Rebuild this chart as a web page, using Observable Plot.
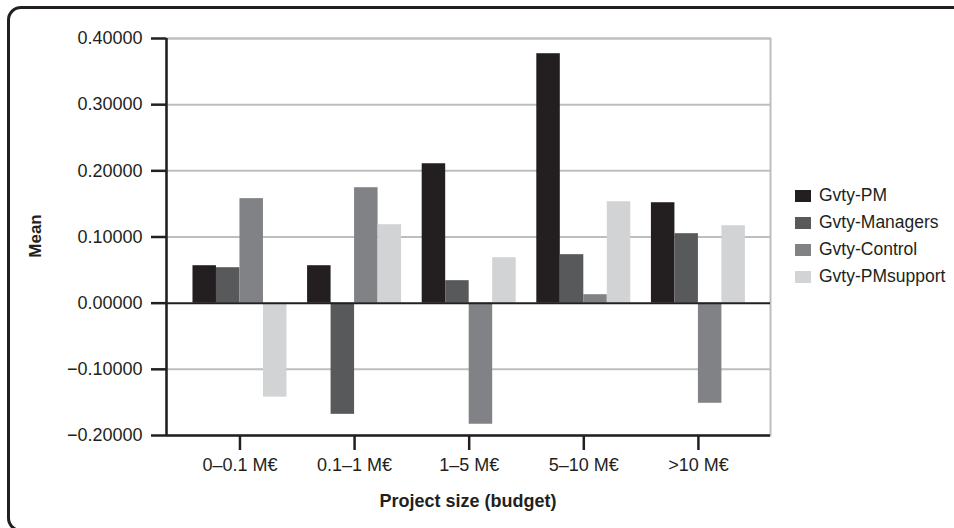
<!DOCTYPE html>
<html>
<head>
<meta charset="utf-8">
<script src="https://cdn.jsdelivr.net/npm/d3@7"></script>
<script src="https://cdn.jsdelivr.net/npm/@observablehq/plot@0.6"></script>
<style>
  body { margin: 0; background: #fff; }
  #chart {
    position: relative; width: 954px; height: 528px; overflow: hidden;
    font-family: "Liberation Sans", Arial, sans-serif; color: #231f20; background: #fff;
  }
  #chart svg { position: absolute; left: 0; top: 0; }
  .panel {
    position: absolute; left: 7px; top: 6px; right: -20px; bottom: -4px;
    border: 3px solid #231f20; border-radius: 14px;
  }
  .ylabel {
    position: absolute; left: 36px; top: 236px; font-weight: bold; font-size: 17px;
    transform: translate(-50%, -50%) rotate(-90deg); white-space: nowrap;
  }
  .xlabel {
    position: absolute; left: 468px; top: 501px; font-weight: bold; font-size: 18px;
    transform: translate(-50%, -50%); white-space: nowrap;
  }
  .legend { position: absolute; left: 795px; top: 182px; font-size: 17.5px; }
  .legend .item { display: flex; align-items: center; height: 27px; white-space: nowrap; }
  .legend .sw { width: 16px; height: 12px; margin-right: 8px; }
</style>
</head>
<body>
<div id="chart">
  <div class="panel"></div>
</div>
<script>
// Budget classes on the x axis
const categories = ["0–0.1 M€", "0.1–1 M€", "1–5 M€", "5–10 M€", ">10 M€"];
// Governance series and their fills
const seriesNames = ["Gvty-PM", "Gvty-Managers", "Gvty-Control", "Gvty-PMsupport"];
const seriesColors = ["#231f20", "#58595b", "#808285", "#d1d3d4"];
// Mean per budget class, one array per series
const gvtyPM        = [0.0566, 0.0566, 0.2107, 0.3770, 0.1518];
const gvtyManagers  = [0.0536, -0.1680, 0.0340, 0.0733, 0.1050];
const gvtyControl   = [0.1580, 0.1745, -0.1830, 0.0128, -0.1513];
const gvtyPMsupport = [-0.1420, 0.1186, 0.0687, 0.1533, 0.1170];
// Value axis ticks
const yTicks = [-0.2, -0.1, 0, 0.1, 0.2, 0.3, 0.4];

const seriesValues = [gvtyPM, gvtyManagers, gvtyControl, gvtyPMsupport];
const barWidth = 0.205; // width of one bar, in category units
const bars = [];
categories.forEach((cat, i) => {
  seriesNames.forEach((s, j) => {
    const x1 = i + (j - seriesNames.length / 2) * barWidth;
    bars.push({category: cat, series: s, value: seriesValues[j][i], x1, x2: x1 + barWidth});
  });
});

const xDomain = [-0.641, 4.629];
const ink = "#231f20";

const chart = Plot.plot({
  width: 954,
  height: 528,
  marginLeft: 166,
  marginRight: 184,
  marginTop: 38,
  marginBottom: 93,
  style: {fontFamily: "Liberation Sans, Arial, sans-serif", fontSize: "18px", color: ink, background: "transparent"},
  x: {domain: xDomain},
  y: {domain: [-0.2, 0.4]},
  color: {domain: seriesNames, range: seriesColors},
  marks: [
    Plot.ruleY(yTicks.filter(v => v > -0.2 && v !== 0), {stroke: "#bcbec0", strokeWidth: 2}),
    Plot.frame({stroke: "#bcbec0", strokeWidth: 2}),
    Plot.rectY(bars, {x1: "x1", x2: "x2", y1: 0, y2: "value", fill: "series"}),
    Plot.ruleY([0], {stroke: ink, strokeWidth: 2}),
    Plot.ruleY([-0.2], {stroke: ink, strokeWidth: 2.5}),
    Plot.ruleX([xDomain[0]], {stroke: ink, strokeWidth: 2.5}),
    Plot.axisY({
      ticks: yTicks, tickSize: 15, tickPadding: 9, strokeWidth: 2.5, stroke: ink,
      tickFormat: d3.format(".5f"), fontSize: 18, label: null
    }),
    Plot.axisX({
      ticks: d3.range(categories.length), tickSize: 15, tickPadding: 8, strokeWidth: 2.5, stroke: ink,
      tickFormat: i => categories[i], fontSize: 18, label: null
    })
  ]
});

const root = document.getElementById("chart");
root.appendChild(chart);

const yl = document.createElement("div");
yl.className = "ylabel"; yl.textContent = "Mean";
root.appendChild(yl);

const xl = document.createElement("div");
xl.className = "xlabel"; xl.textContent = "Project size (budget)";
root.appendChild(xl);

const legend = document.createElement("div");
legend.className = "legend";
seriesNames.forEach((s, j) => {
  const item = document.createElement("div");
  item.className = "item";
  const sw = document.createElement("span");
  sw.className = "sw"; sw.style.background = seriesColors[j];
  const t = document.createElement("span");
  t.textContent = s;
  item.appendChild(sw); item.appendChild(t);
  legend.appendChild(item);
});
root.appendChild(legend);
</script>
</body>
</html>
